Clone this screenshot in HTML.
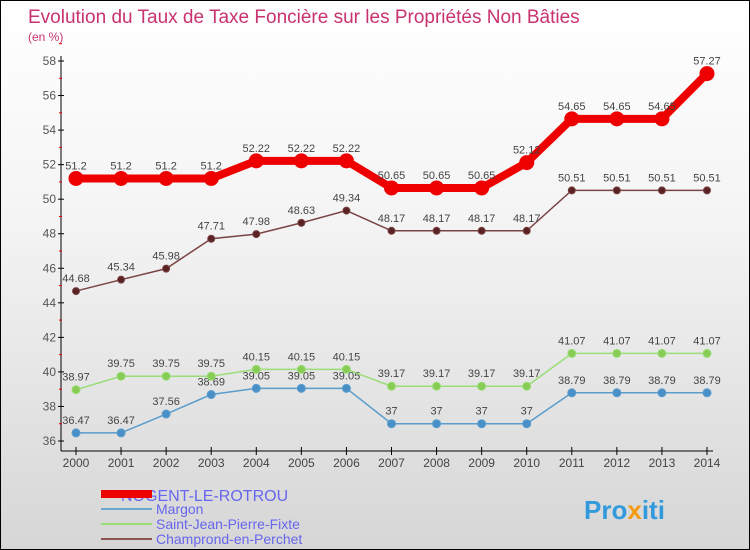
<!DOCTYPE html>
<html><head><meta charset="utf-8"><style>
body{margin:0}
#c{width:750px;height:550px;position:relative;overflow:hidden;box-sizing:border-box;border:1px solid #000;background:linear-gradient(#fff,#f4f4f4 40%,#d6d6d6)}
svg{position:absolute;left:0;top:0;font-family:"Liberation Sans",sans-serif}
</style></head><body>
<div id="c">
<svg id="s" width="750" height="550">
<text x="27" y="22" font-size="19" fill="#c8326e">Evolution du Taux de Taxe Foncière sur les Propriétés Non Bâties</text>
<text x="27" y="40" font-size="12" fill="#c8326e">(en %)</text>
<g id="g"></g>
<text x="120" y="500" font-size="16" fill="#6666ee">NOGENT-LE-ROTROU</text>
<text x="155" y="513" font-size="14" fill="#6666ee">Margon</text>
<text x="155" y="528" font-size="14" fill="#6666ee">Saint-Jean-Pierre-Fixte</text>
<text x="155" y="543" font-size="14" fill="#6666ee">Champrond-en-Perchet</text>
<rect x="100" y="489" width="51" height="8" fill="#e00"/>
<rect x="100" y="507" width="51" height="2" fill="#6aa8d0"/>
<rect x="100" y="522" width="51" height="2" fill="#99dd77"/>
<rect x="100" y="537" width="51" height="2" fill="#8b5555"/>
<text x="583" y="518" font-size="26" font-weight="bold" fill="#3399dd">Pro<tspan fill="#f39c12">x</tspan>iti</text>
</svg></div>
<script>
const years=[2000,2001,2002,2003,2004,2005,2006,2007,2008,2009,2010,2011,2012,2013,2014];
const nogent=[51.2,51.2,51.2,51.2,52.22,52.22,52.22,50.65,50.65,50.65,52.12,54.65,54.65,54.65,57.27];
const margon=[36.47,36.47,37.56,38.69,39.05,39.05,39.05,37,37,37,37,38.79,38.79,38.79,38.79];
const saintJean=[38.97,39.75,39.75,39.75,40.15,40.15,40.15,39.17,39.17,39.17,39.17,41.07,41.07,41.07,41.07];
const champrond=[44.68,45.34,45.98,47.71,47.98,48.63,49.34,48.17,48.17,48.17,48.17,50.51,50.51,50.51,50.51];
const yTicks=[36,38,40,42,44,46,48,50,52,54,56,58];
const NS='http://www.w3.org/2000/svg',g=document.getElementById('g');
const X=i=>75+i*(631/(years.length-1));
const Y=v=>440-(v-36)*(380/22);
function mk(t,a,p){const e=document.createElementNS(NS,t);for(const k in a)e.setAttribute(k,a[k]);(p||g).appendChild(e);return e;}
const ax=mk('line',{x1:60,y1:55,x2:60,y2:450,stroke:'#000'});


const bx=mk('line',{x1:60,y1:450,x2:712,y2:450,stroke:'#000'});


yTicks.forEach(v=>{
  mk('line',{x1:57,y1:Y(v),x2:63,y2:Y(v),stroke:'#000'});
  mk('line',{x1:58,y1:Y(v+1),x2:61,y2:Y(v+1),stroke:'#e00'});
  const t=mk('text',{x:55,y:Y(v)+4,'font-size':12,fill:'#555','text-anchor':'end'});t.textContent=v;
  
  
});
years.forEach((yr,i)=>{
  mk('line',{x1:X(i),y1:446,x2:X(i),y2:454,stroke:'#000'});
  const t=mk('text',{x:X(i),y:466,'font-size':12,fill:'#444','text-anchor':'middle'});t.textContent=yr;
  
  
});
function series(vals,color,dot,w,r,name){
  const p=mk('polyline',{points:vals.map((v,i)=>X(i)+','+Y(v)).join(' '),fill:'none',stroke:color,'stroke-width':w});
  
  
  vals.forEach((v,i)=>{
    const c=mk('circle',{cx:X(i),cy:Y(v),r:r,fill:dot,stroke:color,'stroke-width':1});
    
    
    const t=mk('text',{x:X(i),y:Y(v)-9,'font-size':11,fill:'#444','text-anchor':'middle'});t.textContent=v;
    
    
  });
}
series(margon,'#5a9ccc','#4a90c8',1.5,4,'margon');
series(saintJean,'#99dd77','#88cc55',1.5,4,'saint-jean');
series(champrond,'#7a4444','#5a2222',1.5,3.5,'champrond');
series(nogent,'#ee0000','#ee0000',8,7,'nogent');
</script>
</body></html>
